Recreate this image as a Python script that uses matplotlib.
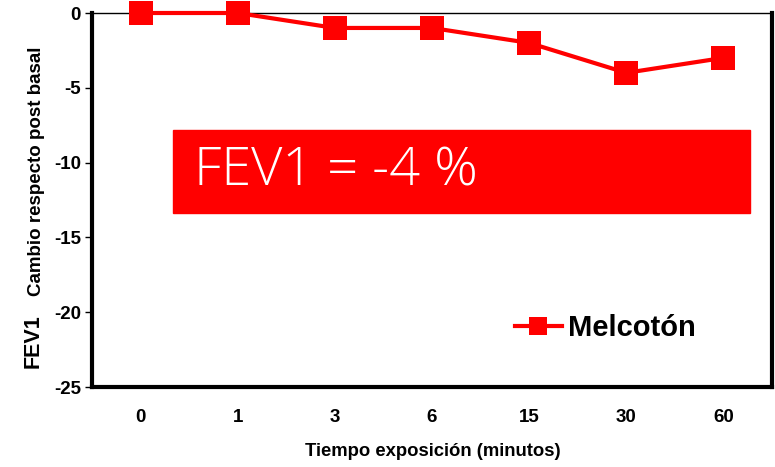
import matplotlib
matplotlib.use("Agg")
import matplotlib.pyplot as plt
from matplotlib.patches import Rectangle

categories = ["0", "1", "3", "6", "15", "30", "60"]
melcoton = [0, 0, -1, -1, -2, -4, -3]
yticks = [0, -5, -10, -15, -20, -25]

plt.rcParams['font.family'] = ['Liberation Sans', 'DejaVu Sans']

fig = plt.figure(figsize=(7.75, 4.67), dpi=100)
ax = fig.add_axes([92/775, 1-387/467, (772-92)/775, (387-13)/467])

x = list(range(len(categories)))
ax.plot(x, melcoton, color='#ff0000', lw=3, marker='s', markersize=17,
        markeredgewidth=0, clip_on=False, zorder=5, label='Melcotón')

ax.set_xlim(-0.5, len(categories)-0.5)
ax.set_ylim(-25, 0)
ax.set_yticks(yticks)
ax.set_yticklabels([str(v) for v in yticks], fontsize=13.5, fontweight='bold')
ax.set_xticks(x)
ax.set_xticklabels(categories, fontsize=13.5, fontweight='bold')
ax.tick_params(axis='x', length=0, pad=16)
ax.tick_params(axis='y', length=5, width=1, direction='out', pad=3)

for s in ['left', 'bottom', 'right']:
    ax.spines[s].set_linewidth(3)
ax.spines['top'].set_linewidth(1)

fig.text(433/775, 1-452/467, 'Tiempo exposición (minutos)', fontsize=13.3,
         fontweight='bold', ha='center', va='center')

fig.text(33/775, 1-341/467, 'FEV1', rotation=90, fontsize=15.5, fontweight='bold',
         ha='center', va='center')
fig.text(37/775, 1-171/467, 'Cambio respecto post basal', rotation=90, fontsize=13.5,
         fontweight='bold', ha='center', va='center')

# red annotation box
fig.patches.append(Rectangle((173/775, 1-213/467), (750-173)/775, (213-130)/467,
                             transform=fig.transFigure, color='#ff0000', zorder=10))
fig.text(194/775, 1-172/467, 'FEV1 = -4 %', fontsize=39, color='white',
         family=['Open Sans', 'DejaVu Sans'], fontweight='light',
         ha='left', va='center', zorder=11)

leg = ax.legend(loc='center left', bbox_to_anchor=(515/775, 1-328/467),
                bbox_transform=fig.transFigure, frameon=False,
                prop={'size': 21, 'weight': 'bold'}, handlelength=1.6,
                handletextpad=0.2, markerscale=0.8, borderpad=0, borderaxespad=0)

fig.savefig('out.png', dpi=100)
